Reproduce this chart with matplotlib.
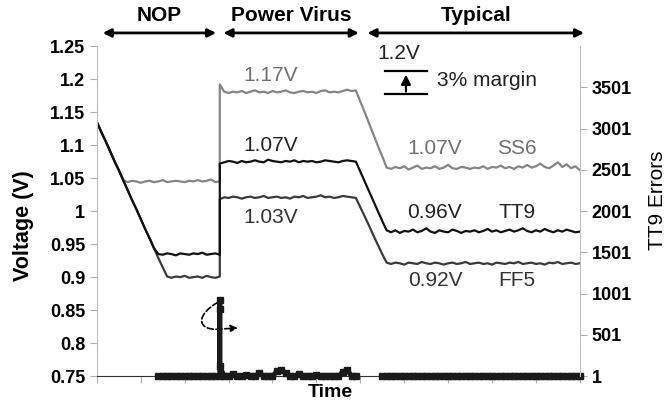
import matplotlib
matplotlib.use("Agg")
import matplotlib.pyplot as plt
from matplotlib.patches import FancyArrowPatch
from matplotlib.path import Path
import numpy as np

plt.rcParams['font.family'] = ['Liberation Sans', 'DejaVu Sans']

# time samples (step at t=28 is repeated so the jump is vertical)
t = np.r_[np.arange(0, 29), np.arange(28, 111)]

ss6 = [1.135, 1.120, 1.106, 1.091, 1.076, 1.062, 1.047,
       1.044, 1.046, 1.045, 1.043, 1.045, 1.046, 1.044, 1.045, 1.047, 1.044,
       1.045, 1.046, 1.045, 1.044, 1.046, 1.045, 1.047, 1.045, 1.046, 1.048,
       1.044, 1.045,
       1.192, 1.181,
       1.179, 1.181, 1.180, 1.182, 1.179, 1.181, 1.183, 1.180, 1.181, 1.179,
       1.182, 1.180, 1.181, 1.183, 1.180, 1.179, 1.181, 1.182, 1.180, 1.181,
       1.179, 1.182, 1.183, 1.180, 1.181, 1.180, 1.182, 1.184, 1.182, 1.183,
       1.166, 1.150, 1.133, 1.116, 1.099, 1.083, 1.066,
       1.064, 1.067, 1.065, 1.068, 1.063, 1.066, 1.069, 1.064, 1.066, 1.065,
       1.068, 1.064, 1.066, 1.070, 1.065, 1.064, 1.067, 1.066, 1.064, 1.066,
       1.065, 1.068, 1.064, 1.067, 1.066, 1.069, 1.065, 1.067, 1.064, 1.068,
       1.066, 1.070, 1.066, 1.068, 1.072, 1.067, 1.065, 1.069, 1.074, 1.067,
       1.071, 1.065, 1.068, 1.062]

tt9 = [1.135, 1.120, 1.106, 1.091, 1.076, 1.062, 1.047, 1.032, 1.017, 1.003,
       0.988, 0.973, 0.959, 0.944, 0.935,
       0.934, 0.936, 0.935, 0.933, 0.936, 0.935, 0.934, 0.936, 0.935, 0.937,
       0.934, 0.935, 0.936, 0.934,
       1.072,
       1.074, 1.076, 1.075, 1.073, 1.076, 1.074, 1.075, 1.077, 1.075, 1.074,
       1.078, 1.076, 1.075, 1.074, 1.076, 1.075, 1.077, 1.074, 1.076, 1.075,
       1.076, 1.074, 1.075, 1.077, 1.076, 1.075, 1.074, 1.076, 1.077, 1.076,
       1.075,
       1.060, 1.045, 1.030, 1.015, 1.000, 0.985, 0.971,
       0.968, 0.971, 0.967, 0.970, 0.969, 0.972, 0.968, 0.970, 0.974, 0.969,
       0.967, 0.971, 0.969, 0.968, 0.972, 0.970, 0.967, 0.970, 0.969, 0.971,
       0.968, 0.970, 0.973, 0.969, 0.971, 0.968, 0.970, 0.972, 0.969, 0.971,
       0.974, 0.970, 0.968, 0.971, 0.969, 0.973, 0.970, 0.968, 0.971, 0.969,
       0.972, 0.970, 0.968, 0.969]

ff5 = [1.135, 1.120, 1.106, 1.091, 1.076, 1.062, 1.047, 1.032, 1.017, 1.003,
       0.988, 0.973, 0.959, 0.944, 0.929, 0.915, 0.901,
       0.899, 0.901, 0.900, 0.902, 0.899, 0.900, 0.901, 0.899, 0.902, 0.900,
       0.899, 0.901,
       1.018,
       1.021, 1.020, 1.022, 1.021, 1.019, 1.021, 1.022, 1.020, 1.021, 1.023,
       1.020, 1.021, 1.022, 1.020, 1.021, 1.019, 1.022, 1.021, 1.023, 1.020,
       1.021, 1.022, 1.024, 1.021, 1.022, 1.020, 1.021, 1.023, 1.022, 1.021,
       1.020,
       1.006, 0.992, 0.978, 0.963, 0.949, 0.935, 0.922,
       0.920, 0.922, 0.921, 0.919, 0.922, 0.921, 0.920, 0.923, 0.921, 0.920,
       0.922, 0.921, 0.919, 0.921, 0.922, 0.920, 0.921, 0.923, 0.920, 0.921,
       0.922, 0.920, 0.921, 0.919, 0.922, 0.921, 0.920, 0.922, 0.921, 0.923,
       0.920, 0.921, 0.922, 0.920, 0.921, 0.919, 0.922, 0.921, 0.923, 0.920,
       0.921, 0.922, 0.920, 0.921]

# TT9 error count (right axis); NaN = no data in the ramp
err_t = list(range(14, 29)) + [28, 28, 28] + list(range(29, 60)) + [np.nan] + list(range(65, 111))
err_v = ([1] * 15 + [921, 817, 121] +
         [1, 1, 30, 1, 1, 20, 1, 1, 40, 1, 1, 1, 60, 70, 40, 1, 1, 30, 1, 1,
          1, 20, 1, 1, 1, 1, 1, 50, 80, 1, 1] +
         [np.nan] + [1] * 46)

volt_ticks = [0.75, 0.8, 0.85, 0.9, 0.95, 1, 1.05, 1.1, 1.15, 1.2, 1.25]
err_ticks = [1, 501, 1001, 1501, 2001, 2501, 3001, 3501]

fig = plt.figure(figsize=(6.68, 4.12), dpi=100)
ax = fig.add_axes([0.145, 0.087, 0.723, 0.801])

ax.plot(t, ss6, color='#858585', lw=1.6)
ax.plot(t, ff5, color='#3a3a3a', lw=1.6)
ax.plot(t, tt9, color='#111111', lw=1.6)

ax.set_xlim(0, 110)
ax.set_ylim(0.75, 1.25)
ax.set_xticks(np.arange(0, 111, 10))
ax.set_xticklabels([])
ax.set_yticks(volt_ticks)
ax.set_yticklabels(['%g' % v for v in volt_ticks], fontsize=13, fontweight='bold')
for s in ['top', 'right']:
    ax.spines[s].set_visible(False)
ax.spines['left'].set_color('#c0c0c0')
ax.spines['bottom'].set_color('#303030')
ax.tick_params(axis='y', colors='#b0b0b0', labelcolor='black', length=5)
ax.tick_params(axis='x', colors='#b0b0b0', length=5)

ax2 = ax.twinx()
ax2.plot(err_t, err_v, color='#1a1a1a', lw=3.5, marker='s', ms=5, clip_on=False)
ax2.set_ylim(1, 4001)
ax2.set_yticks(err_ticks)
ax2.set_yticklabels([str(v) for v in err_ticks], fontsize=13, fontweight='bold')
for s in ['top', 'left', 'bottom']:
    ax2.spines[s].set_visible(False)
ax2.spines['right'].set_color('#c0c0c0')
ax2.tick_params(axis='y', colors='#b0b0b0', labelcolor='black', length=5)

# phase arrows on top
tr = ax.get_xaxis_transform()
for x0, x1, lab in [(0.7, 27.8, 'NOP'), (28.2, 60.3, 'Power Virus'), (61.0, 111.6, 'Typical')]:
    ax.annotate('', xy=(x1, 1.04), xytext=(x0, 1.04), xycoords=tr, textcoords=tr,
                arrowprops=dict(arrowstyle='<|-|>', color='black', lw=2, mutation_scale=12),
                annotation_clip=False)
    ax.text((x0 + x1) / 2, 1.094, lab, transform=tr, ha='center', va='center',
            fontsize=15, fontweight='bold')

# value labels
lab_kw = dict(ha='center', va='center', fontsize=15)
ax.text(39.6, 1.206, '1.17V', color='#707070', **lab_kw)
ax.text(39.6, 1.100, '1.07V', color='#222222', **lab_kw)
ax.text(39.6, 0.991, '1.03V', color='#333333', **lab_kw)
ax.text(77.0, 1.095, '1.07V', color='#707070', **lab_kw)
ax.text(95.7, 1.095, 'SS6', color='#707070', **lab_kw)
ax.text(77.0, 0.998, '0.96V', color='#222222', **lab_kw)
ax.text(95.7, 0.998, 'TT9', color='#222222', **lab_kw)
ax.text(77.0, 0.895, '0.92V', color='#333333', **lab_kw)
ax.text(95.7, 0.895, 'FF5', color='#333333', **lab_kw)

# margin symbol
ax.text(68.8, 1.239, '1.2V', color='#222222', **lab_kw)
ax.plot([65.6, 75.2], [1.212, 1.212], color='black', lw=1.6)
ax.plot([65.6, 75.2], [1.177, 1.177], color='black', lw=1.6)
ax.annotate('', xy=(70.4, 1.211), xytext=(70.4, 1.177),
            arrowprops=dict(arrowstyle='-|>', color='black', lw=1.6, mutation_scale=14))
ax.text(77.4, 1.198, '3% margin', ha='left', va='center', fontsize=15, color='#222222')

# dashed rotation arrow near the error spike
loop = Path([(27.6, 0.862), (23.0, 0.845), (22.5, 0.822), (27.0, 0.821), (32.1, 0.823)],
            [Path.MOVETO, Path.CURVE4, Path.CURVE4, Path.CURVE4, Path.LINETO])
ax.add_patch(FancyArrowPatch(path=loop, arrowstyle='-|>', color='black', lw=1.2,
                             ls='--', mutation_scale=10))

fig.text(0.035, 0.452, 'Voltage (V)', rotation=90, ha='center', va='center',
         fontsize=15.5, fontweight='bold')
fig.text(0.985, 0.515, 'TT9 Errors', rotation=90, ha='center', va='center', fontsize=15)
fig.text(0.494, 0.048, 'Time', ha='center', va='center', fontsize=14, fontweight='bold')

fig.savefig('out.png', dpi=100)
